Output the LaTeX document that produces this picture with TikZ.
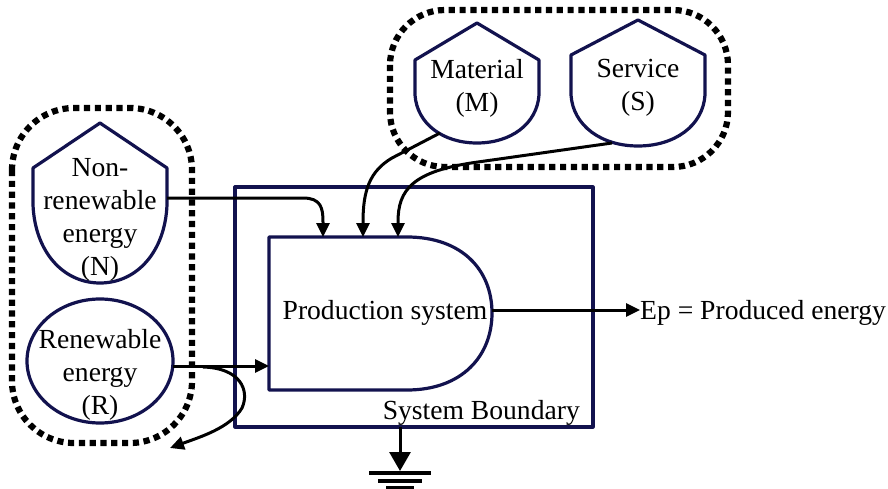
\documentclass[tikz,border=0pt]{standalone}
\usepackage{fontspec}
\setmainfont{Liberation Serif}
\usetikzlibrary{arrows.meta,calc}
\definecolor{navy}{RGB}{18,18,78}
\tikzset{
  outline/.style={draw=navy,line width=3.2pt,line join=round},
  group/.style={draw=black,line width=6.2pt,dash pattern=on 6.2pt off 4.6pt,rounded corners=#1},
  flow/.style={draw=black,line width=3pt,-{Triangle[length=14pt,width=13pt]}},
  lbl/.style={font=\fontsize{27.6}{33}\selectfont,align=center,inner sep=0pt},
  earth/.style={draw=black,line width=4.5pt}
}
% shield-shaped energy source: centre x, top, half width, shoulder, straight side end, bottom
\newcommand\shieldoutline[6]{%
  \draw[outline] ({#1-#3},#4) -- (#1,#2) -- ({#1+#3},#4) -- ({#1+#3},#5)
    .. controls ({#1+#3-2},{#5+0.6*(#6-#5)}) and ({#1+0.55*#3},#6) .. (#1,#6)
    .. controls ({#1-0.55*#3},#6) and ({#1-#3+2},{#5+0.6*(#6-#5)}) .. ({#1-#3},#5) -- cycle;}
\begin{document}
\begin{tikzpicture}[x=1pt,y=-1pt]
\useasboundingbox (0,0) rectangle (888,489);

% dotted groupings of the inputs
\draw[group=62pt] (12,108) rectangle (192,443);
\draw[group=55pt] (390,10) rectangle (728,167);

% energy sources
\shieldoutline{100}{123}{67}{168}{205}{283}
\node[lbl] (N) at (100,220) {Non-\\renewable\\energy\\(N)};
\draw[outline] (100,361) ellipse [x radius=73,y radius=62];
\node[lbl] (R) at (100,375) {Renewable\\energy\\(R)};
\shieldoutline{477}{23}{62}{60}{95}{143}
\node[lbl] (M) at (477,88) {Material\\(M)};
\shieldoutline{638}{20}{67}{55}{95}{146}
\node[lbl] (S) at (638,88) {Service\\(S)};

% system boundary and production unit
\draw[outline] (235,187) rectangle (593,427);
\node[lbl,anchor=base east] (SB) at (580,419) {System Boundary};
\draw[outline] (407,237) -- (269,237) -- (269,390) -- (407,390)
  .. controls (462,390) and (492,356) .. (492,313)
  .. controls (492,270) and (462,237) .. (407,237) -- cycle;
\node[lbl] (P) at (385,313) {Production system};
\node[lbl,anchor=base west] (Ep) at (640,319) {Ep = Produced energy};

% connection points
\coordinate (nE) at (167,198);
\coordinate (mOut) at (440,133);
\coordinate (sOut) at (612,143);
\coordinate (rE) at (173,366);
\coordinate (split) at (203,367);
\coordinate (lost) at (170,448);
\coordinate (p1) at (323,237);
\coordinate (p2) at (363,237);
\coordinate (p3) at (398,237);
\coordinate (pW) at (269,366);
\coordinate (pE) at (492,310);
\coordinate (bS) at (400,427);
\coordinate (gTip) at (400,471);

% flows
\draw[flow] (nE) -- (303,198) .. controls (321,198) and (323,208) .. (323,222) -- (p1);
\draw[flow] (mOut) -- (392,158) .. controls (370,171) and (363,190) .. (363,222) -- (p2);
\draw[flow] (sOut) -- (478,162) .. controls (412,171) and (398,190) .. (398,222) -- (p3);
\draw[flow] (rE) -- (pW);
\draw[flow] (split) .. controls (240,368) and (250,390) .. (242,408)
  .. controls (230,428) and (200,437) .. (lost);
\draw[flow] (pE) -- (Ep.west |- pE);
\draw[line width=3pt,-{Triangle[length=19pt,width=21pt]}] (bS) -- (gTip);

% earth symbol
\draw[earth] (369,473) -- (431,473);
\draw[earth] (378,481) -- (422,481);
\draw[earth] (386,488) -- (414,488);
\end{tikzpicture}
\end{document}
